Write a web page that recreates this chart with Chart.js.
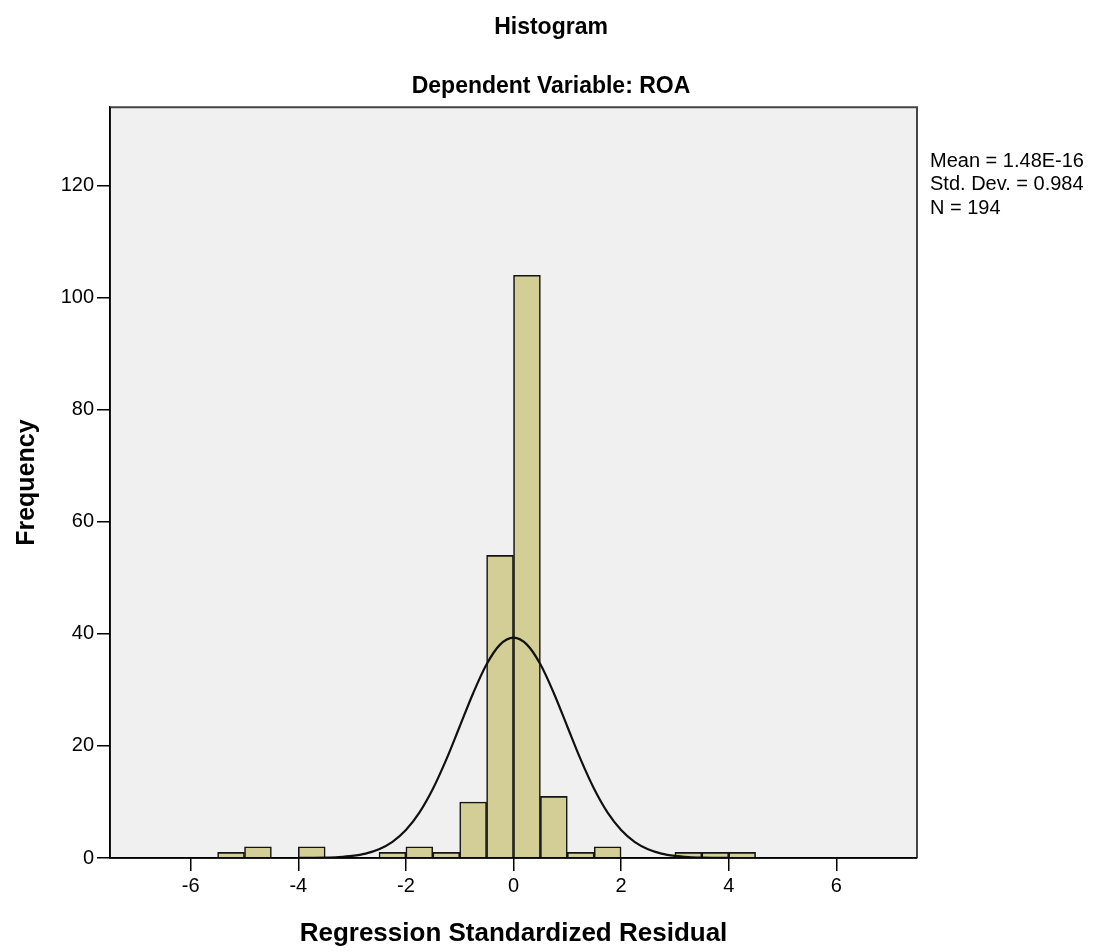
<!DOCTYPE html>
<html>
<head>
<meta charset="utf-8">
<script src="https://cdn.jsdelivr.net/npm/chart.js@4.4.0/dist/chart.umd.min.js"></script>
<style>
  html, body { margin: 0; padding: 0; background: #fff; }
  #wrap { width: 1102px; height: 952px; }
</style>
</head>
<body>
<div id="wrap"><canvas id="grafico" width="1102" height="952"></canvas></div>
<script>
// centros das classes do histograma (largura 0.5)
const centrosClasses = [-5.25, -4.75, -4.25, -3.75, -3.25, -2.75, -2.25, -1.75, -1.25, -0.75,
                        -0.25, 0.25, 0.75, 1.25, 1.75, 2.25, 2.75, 3.25, 3.75, 4.25];
const frequencias = [1, 2, 0, 2, 0, 0, 1, 2, 1, 10, 54, 104, 11, 1, 2, 0, 0, 1, 1, 1];

// curva normal
const curvaX = [-4, -3.75, -3.5, -3.25, -3, -2.75, -2.5, -2.25, -2, -1.75, -1.5, -1.25, -1, -0.75, -0.5, -0.25,
                0, 0.25, 0.5, 0.75, 1, 1.25, 1.5, 1.75, 2, 2.25, 2.5, 2.75, 3, 3.25, 3.5, 3.75, 4];
const curvaY = [0.01, 0.03, 0.07, 0.17, 0.38, 0.79, 1.56, 2.88, 4.99, 8.09, 12.31, 17.55, 23.47, 29.41, 34.57, 38.08,
                39.33, 38.08, 34.57, 29.41, 23.47, 17.55, 12.31, 8.09, 4.99, 2.88, 1.56, 0.79, 0.38, 0.17, 0.07, 0.03, 0.01];

const ticksX = [-6, -4, -2, 0, 2, 4, 6];
const ticksY = [0, 20, 40, 60, 80, 100, 120];
const estatisticas = ['Mean = 1.48E-16', 'Std. Dev. = 0.984', 'N = 194'];

const fonte = '"Liberation Sans", Arial, sans-serif';

// fundo cinza da área do gráfico, moldura e texto das estatísticas
const fundoPlot = {
    id: 'fundoPlot',
    beforeDraw(chart) {
        const { ctx, chartArea: a } = chart;
        ctx.save();
        ctx.fillStyle = '#f0f0f0';
        ctx.fillRect(a.left, a.top, a.right - a.left, a.bottom - a.top);
        ctx.restore();
    },
    afterDraw(chart) {
        const { ctx, chartArea: a } = chart;
        ctx.save();
        // topo e direita em cinza escuro
        ctx.strokeStyle = '#444';
        ctx.lineWidth = 2;
        ctx.beginPath();
        ctx.moveTo(a.left, a.top);
        ctx.lineTo(a.right, a.top);
        ctx.lineTo(a.right, a.bottom);
        ctx.stroke();
        // eixos em preto
        ctx.strokeStyle = '#000';
        ctx.lineWidth = 1.5;
        ctx.beginPath();
        ctx.moveTo(a.left, a.top);
        ctx.lineTo(a.left, a.bottom);
        ctx.lineTo(a.right, a.bottom);
        ctx.stroke();

        ctx.fillStyle = '#000';
        ctx.font = '20px ' + fonte;
        ctx.textBaseline = 'middle';
        ctx.textAlign = 'left';
        estatisticas.forEach((linha, i) => {
            ctx.fillText(linha, a.right + 13, a.top + 54 + i * 23.5);
        });
        ctx.restore();
    }
};

const dadosBarras = centrosClasses.map((x, i) => ({ x: x, y: frequencias[i] }));
const dadosCurva = curvaX.map((x, i) => ({ x: x, y: curvaY[i] }));

new Chart(document.getElementById('grafico'), {
    data: {
        datasets: [
            {
                type: 'line',
                data: dadosCurva,
                borderColor: '#111',
                borderWidth: 2.2,
                pointRadius: 0,
                fill: false,
                cubicInterpolationMode: 'monotone',
                order: 0
            },
            {
                type: 'bar',
                data: dadosBarras,
                backgroundColor: '#d3ce96',
                borderColor: '#141414',
                borderWidth: 1.6,
                barPercentage: 1,
                categoryPercentage: 1,
                order: 1
            }
        ]
    },
    options: {
        responsive: false,
        animation: false,
        devicePixelRatio: 1,
        layout: { padding: 0 },
        plugins: {
            legend: { display: false },
            tooltip: { enabled: false },
            title: {
                display: true,
                text: 'Histogram',
                color: '#000',
                font: { family: fonte, size: 23, weight: 'bold' },
                padding: { top: 14, bottom: 0 }
            },
            subtitle: {
                display: true,
                text: 'Dependent Variable: ROA',
                color: '#000',
                font: { family: fonte, size: 23, weight: 'bold' },
                padding: { top: 31, bottom: 7 }
            }
        },
        scales: {
            x: {
                type: 'linear',
                min: -7.5,
                max: 7.5,
                offset: false,
                afterBuildTicks: s => { s.ticks = ticksX.map(v => ({ value: v })); },
                afterFit: s => { s.height = 94; },
                grid: { offset: false, drawOnChartArea: false, drawTicks: true, tickLength: 13, color: '#000', lineWidth: 1.5 },
                border: { display: true, color: '#000', width: 1.5 },
                ticks: { color: '#000', font: { family: fonte, size: 20 }, padding: 3, maxRotation: 0 },
                title: {
                    display: true,
                    text: 'Regression Standardized Residual',
                    color: '#000',
                    font: { family: fonte, size: 26, weight: 'bold' },
                    padding: { top: 0, bottom: 3 }
                }
            },
            y: {
                type: 'linear',
                min: 0,
                max: 134,
                afterBuildTicks: s => { s.ticks = ticksY.map(v => ({ value: v })); },
                afterFit: s => { s.width = 110; },
                grid: { drawOnChartArea: false, drawTicks: true, tickLength: 13, color: '#000', lineWidth: 1.5 },
                border: { display: true, color: '#000', width: 1.5 },
                ticks: { color: '#000', font: { family: fonte, size: 20 }, padding: 3 },
                title: {
                    display: true,
                    text: 'Frequency',
                    color: '#000',
                    font: { family: fonte, size: 25, weight: 'bold' },
                    padding: { top: 12, bottom: 0 }
                }
            },
            // eixo vazio à direita só para reservar espaço das estatísticas
            espacoDireita: {
                type: 'linear',
                position: 'right',
                afterFit: s => { s.width = 185; },
                grid: { display: false },
                border: { display: false },
                ticks: { display: false }
            }
        }
    },
    plugins: [fundoPlot]
});
</script>
</body>
</html>
